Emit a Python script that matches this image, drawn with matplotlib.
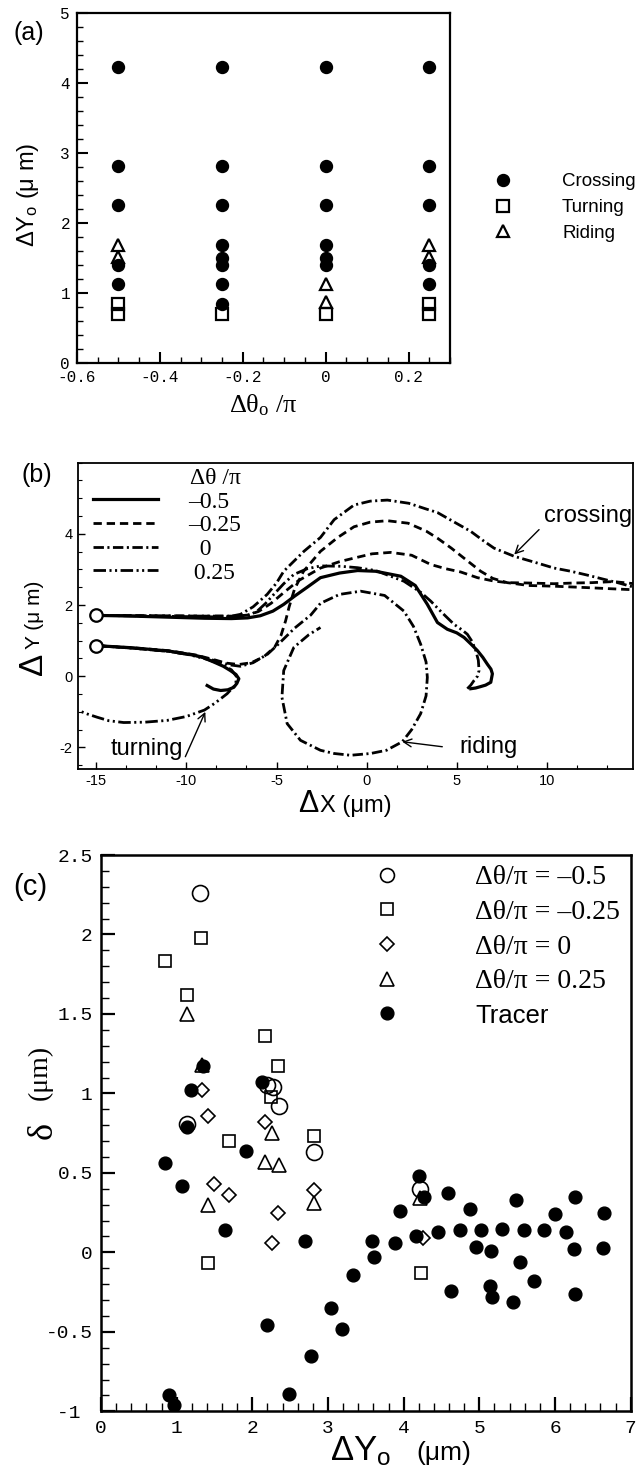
import matplotlib
matplotlib.use("Agg")
import matplotlib.pyplot as plt
from matplotlib.ticker import MultipleLocator, FuncFormatter, FixedLocator

plt.rcParams['axes.unicode_minus'] = False
plt.rcParams['lines.scale_dashes'] = False
plt.rcParams['mathtext.fontset'] = 'custom'
plt.rcParams['mathtext.rm'] = 'Liberation Serif'
plt.rcParams['mathtext.it'] = 'Liberation Serif:italic'
plt.rcParams['mathtext.sf'] = 'Liberation Sans'
plt.rcParams['font.family'] = ['Liberation Sans', 'DejaVu Sans']

SANS = ['Liberation Sans', 'DejaVu Sans']
SERIF = ['Liberation Serif', 'DejaVu Serif']
MONO = ['Liberation Mono', 'DejaVu Sans Mono']

# ---------------- (a) outcome map over initial angle and offset ----------------
theta0 = [-0.5, -0.25, 0.0, 0.25]
crossing_y0 = [[4.23, 2.82, 2.26, 1.41, 1.13],
               [4.23, 2.82, 2.26, 1.69, 1.51, 1.41, 1.13, 0.85],
               [4.23, 2.82, 2.26, 1.69, 1.51, 1.41],
               [4.23, 2.82, 2.26, 1.41, 1.13]]
turning_y0 = [[0.85, 0.71], [0.71], [0.71], [0.85, 0.71]]
riding_y0 = [[1.69, 1.52], [], [1.13, 0.87], [1.69, 1.52]]

# ---------------- (b) relative trajectories ----------------
# dtheta/pi = -0.5
traj_m05_hi_x = [-15, -13, -11, -9, -7.5, -6.6, -5.9, -5.2, -4.6, -4.0, -3.3, -2.56, -1.5, -0.5, 0.5,
                 1.9, 2.7, 3.37, 3.93, 4.48, 5.0, 5.41, 5.8, 6.15, 6.45, 6.7, 6.9, 6.98, 6.89, 6.6,
                 6.33, 6.05, 5.78]
traj_m05_hi_y = [1.71, 1.69, 1.66, 1.63, 1.62, 1.64, 1.70, 1.83, 2.02, 2.25, 2.50, 2.77, 2.90, 2.97, 2.95,
                 2.81, 2.55, 2.02, 1.51, 1.32, 1.22, 1.09, 0.90, 0.72, 0.53, 0.34, 0.20, 0.07, -0.17,
                 -0.25, -0.29, -0.33, -0.35]
traj_m05_lo_x = [-15, -13, -11, -10, -9.2, -8.48, -7.95, -7.56, -7.25, -7.09, -7.2, -7.37, -7.7, -8.1,
                 -8.5, -8.85]
traj_m05_lo_y = [0.86, 0.80, 0.71, 0.63, 0.55, 0.40, 0.28, 0.16, 0.05, -0.07, -0.20, -0.31, -0.38,
                 -0.40, -0.36, -0.26]
# dtheta/pi = -0.25
traj_m025_hi_x = [-15, -12, -9, -7.2, -6.6, -6.0, -5.3, -4.6, -3.8, -2.56, -1.5, -0.7, 0.3, 1.33, 2.5,
                  3.56, 4.4, 5.22, 6.15, 7.0, 7.8, 9.0, 10.4, 11.5, 12.5, 13.7, 14.85]
traj_m025_hi_y = [1.71, 1.70, 1.69, 1.69, 1.72, 1.82, 2.05, 2.35, 2.68, 3.04, 3.22, 3.32, 3.44, 3.48,
                  3.40, 3.14, 3.02, 2.93, 2.77, 2.68, 2.63, 2.62, 2.60, 2.62, 2.63, 2.66, 2.60]
traj_m025_lo_x = [-15, -13, -11, -9.5, -8.5, -7.8, -7.1, -6.4, -5.7, -5.1, -4.75, -4.5, -4.3, -4.0, -3.5,
                  -2.56, -1.6, -0.7, 0.2, 1.15, 2.3, 3.3, 3.93, 4.7, 5.4, 6.33, 7.0, 7.8, 9.0, 10.4,
                  12.26, 13.5, 14.85]
traj_m025_lo_y = [0.86, 0.80, 0.72, 0.60, 0.47, 0.37, 0.33, 0.38, 0.55, 0.82, 1.15, 1.55, 1.95, 2.45,
                  2.95, 3.51, 3.90, 4.20, 4.33, 4.37, 4.30, 4.08, 3.88, 3.60, 3.32, 2.95, 2.75, 2.63,
                  2.55, 2.53, 2.49, 2.46, 2.43]
# dtheta/pi = 0
traj_0_hi_x = [-15, -12, -9, -7.5, -7.0, -6.3, -5.52, -5.0, -4.6, -4.0, -3.48, -2.56, -1.8, -0.7, 0.2,
               1.15, 2.34, 3.3, 3.93, 4.8, 5.78, 6.5, 7.07, 8.19, 9.48, 10.4, 11.33, 12.26, 13.2, 14.0,
               14.85]
traj_0_hi_y = [1.71, 1.70, 1.69, 1.69, 1.74, 1.95, 2.30, 2.62, 2.95, 3.25, 3.51, 3.90, 4.40, 4.81, 4.92,
               4.95, 4.86, 4.70, 4.60, 4.35, 4.07, 3.80, 3.60, 3.37, 3.18, 3.04, 2.95, 2.84, 2.72, 2.62,
               2.50]
traj_0_lo_x = [-15, -13, -11, -9.5, -8.5, -7.6, -7.0, -6.3, -5.5, -4.9, -4.0, -3.1, -2.56, -1.5, -0.33,
               1.0, 2.07, 2.6, 3.0, 3.3, 3.37, 3.3, 3.0, 2.5, 1.98, 1.1, 0.22, -0.89, -1.8, -2.56,
               -3.67, -4.41, -4.7, -4.6, -4.04, -3.2, -2.56]
traj_0_lo_y = [0.86, 0.79, 0.70, 0.58, 0.45, 0.32, 0.28, 0.38, 0.62, 0.90, 1.35, 1.72, 2.05, 2.30, 2.39,
               2.27, 1.83, 1.40, 0.90, 0.40, -0.03, -0.55, -1.05, -1.50, -1.84, -2.08, -2.17, -2.22,
               -2.17, -2.08, -1.80, -1.33, -0.59, 0.16, 0.81, 1.17, 1.37]
# dtheta/pi = 0.25
traj_025_hi_x = [-15, -12, -9, -7.2, -6.5, -6.07, -5.6, -5.15, -4.6, -4.04, -3.3, -2.56, -1.44, -0.5,
                 0.5, 2.07, 3.0, 3.56, 4.2, 4.85, 5.3, 5.59, 5.85, 6.06, 6.2, 6.24, 6.15, 5.96, 5.78,
                 5.59]
traj_025_hi_y = [1.71, 1.69, 1.67, 1.67, 1.72, 1.83, 2.05, 2.30, 2.60, 2.86, 3.02, 3.10, 3.09, 3.05,
                 2.97, 2.67, 2.36, 2.11, 1.78, 1.46, 1.30, 1.18, 0.98, 0.72, 0.45, 0.16, 0.0, -0.12,
                 -0.25, -0.35]
traj_025_lo_x = [-15, -13, -11, -9.8, -8.8, -8.0, -7.5, -7.19, -7.3, -7.74, -8.4, -9.0, -10.0, -11.07,
                 -12.3, -13.48, -14.3, -14.96, -15.5, -16]
traj_025_lo_y = [0.86, 0.79, 0.70, 0.60, 0.47, 0.32, 0.18, -0.03, -0.25, -0.49, -0.75, -0.95, -1.13,
                 -1.24, -1.29, -1.30, -1.25, -1.15, -1.06, -0.96]
start_x = [-15, -15]
start_y = [1.71, 0.86]
legend_b_labels = ['\u20130.5', '\u20130.25', '  0', ' 0.25']

# ---------------- (c) lateral shift versus initial offset ----------------
circ_x = [1.13, 1.31, 2.19, 2.27, 2.35, 2.82, 4.22]
circ_y = [0.81, 2.26, 1.05, 1.04, 0.92, 0.63, 0.40]
sq_x = [0.85, 1.13, 1.32, 1.41, 1.69, 2.17, 2.25, 2.34, 2.82, 4.23]
sq_y = [1.83, 1.62, 1.98, -0.07, 0.70, 1.36, 0.98, 1.17, 0.73, -0.13]
dia_x = [1.34, 1.41, 1.49, 1.69, 2.17, 2.26, 2.34, 2.81, 4.26]
dia_y = [1.02, 0.86, 0.43, 0.36, 0.82, 0.06, 0.25, 0.39, 0.09]
tri_x = [1.13, 1.33, 1.41, 2.17, 2.26, 2.35, 2.81, 4.21]
tri_y = [1.50, 1.18, 0.30, 0.57, 0.75, 0.55, 0.31, 0.34]
tracer_x = [0.85, 0.90, 0.96, 1.07, 1.13, 1.19, 1.35, 1.64, 1.92, 2.13, 2.19, 2.48, 2.69, 2.77, 3.04,
            3.18, 3.33, 3.58, 3.61, 3.89, 3.95, 4.16, 4.20, 4.27, 4.45, 4.58, 4.63, 4.74, 4.88, 4.95,
            5.02, 5.14, 5.15, 5.17, 5.30, 5.44, 5.49, 5.54, 5.59, 5.72, 5.86, 6.00, 6.15, 6.25, 6.26,
            6.27, 6.63, 6.65]
tracer_y = [0.56, -0.90, -0.96, 0.42, 0.79, 1.02, 1.17, 0.14, 0.64, 1.07, -0.46, -0.89, 0.07, -0.65,
            -0.35, -0.48, -0.14, 0.07, -0.03, 0.06, 0.26, 0.10, 0.48, 0.35, 0.13, 0.375, -0.24, 0.14,
            0.27, 0.035, 0.14, -0.21, 0.01, -0.28, 0.145, -0.31, 0.33, -0.06, 0.14, -0.18, 0.14, 0.24,
            0.13, 0.02, -0.26, 0.35, 0.03, 0.25]
legend_c_labels = ['\u0394\u03b8/\u03c0 = \u20130.5', '\u0394\u03b8/\u03c0 = \u20130.25',
                   '\u0394\u03b8/\u03c0 = 0', '\u0394\u03b8/\u03c0 = 0.25', 'Tracer']

# ---------------- layout helpers (pixel based) ----------------
W, H = 640, 1470
fig = plt.figure(figsize=(W / 100, H / 100), dpi=100)


def box(left, top, right, bottom):
    return [left / W, 1 - bottom / H, (right - left) / W, (bottom - top) / H]


def fp(px, py):
    return (px / W, 1 - py / H)


def gfmt(v, pos):
    return '%g' % round(v, 6)


# ================= panel (a) =================
axa = fig.add_axes(box(77, 13.3, 450, 363.3))
xs_c = [t for t, ys in zip(theta0, crossing_y0) for _ in ys]
ys_c = [y for ys in crossing_y0 for y in ys]
xs_t = [t for t, ys in zip(theta0, turning_y0) for _ in ys]
ys_t = [y for ys in turning_y0 for y in ys]
xs_r = [t for t, ys in zip(theta0, riding_y0) for _ in ys]
ys_r = [y for ys in riding_y0 for y in ys]
h_c, = axa.plot(xs_c, ys_c, 'o', ms=8.6, mfc='black', mec='black', ls='none', label='Crossing')
h_t, = axa.plot(xs_t, ys_t, 's', ms=8.4, mfc='none', mec='black', mew=1.6, ls='none', label='Turning')
h_r, = axa.plot(xs_r, ys_r, '^', ms=9.2, mfc='none', mec='black', mew=1.6, ls='none', label='Riding')
axa.set_xlim(-0.6, 0.3)
axa.set_ylim(0, 5)
axa.xaxis.set_major_locator(FixedLocator([-0.6, -0.4, -0.2, 0.0, 0.2]))
axa.xaxis.set_minor_locator(MultipleLocator(0.05))
axa.yaxis.set_major_locator(MultipleLocator(1))
axa.yaxis.set_minor_locator(MultipleLocator(0.2))
axa.xaxis.set_major_formatter(FuncFormatter(gfmt))
axa.yaxis.set_major_formatter(FuncFormatter(gfmt))
axa.tick_params(which='both', direction='in', top=False, right=False,
                labelsize=11.5, labelfontfamily=MONO)
axa.tick_params(which='major', length=8, width=1.5, pad=5)
axa.tick_params(which='minor', length=4, width=1.0)
for s in axa.spines.values():
    s.set_linewidth(1.6)
leg_a = axa.legend(handles=[h_c, h_t, h_r], loc='upper left',
                   bbox_to_anchor=fp(488, 173), bbox_transform=fig.transFigure,
                   frameon=False, borderpad=0, borderaxespad=0, handlelength=1.6,
                   handletextpad=2.35, labelspacing=0.47, prop={'family': SANS, 'size': 13.5})
fig.text(*fp(28, 195), 'ΔY$_\\mathsf{o}$ (μ m)', rotation=90, ha='center', va='center',
         fontsize=17, family=SANS)
fig.text(*fp(263, 405), 'Δθ$_\\mathrm{o}$ /π', ha='center', va='center', fontsize=19, family=SERIF)
fig.text(*fp(29, 33), '(a)', ha='center', va='center', fontsize=18, family=SANS)

# ================= panel (b) =================
axb = fig.add_axes(box(78.3, 462.7, 633.3, 768.8))
lw_solid = 2.3
lw_b = 2.0
ls_dash = (0, (6, 3.5))
ls_dashdot = (0, (7.5, 2.5, 1.5, 2.5))
ls_dashdotdot = (0, (9, 2.5, 1.5, 2.5, 1.5, 2.5))
hb1, = axb.plot(traj_m05_hi_x, traj_m05_hi_y, color='black', lw=lw_solid, ls='-')
axb.plot(traj_m05_lo_x, traj_m05_lo_y, color='black', lw=lw_solid, ls='-')
hb2, = axb.plot(traj_m025_hi_x, traj_m025_hi_y, color='black', lw=lw_b, ls=ls_dash)
axb.plot(traj_m025_lo_x, traj_m025_lo_y, color='black', lw=lw_b, ls=ls_dash)
hb3, = axb.plot(traj_0_hi_x, traj_0_hi_y, color='black', lw=lw_b, ls=ls_dashdot)
axb.plot(traj_0_lo_x, traj_0_lo_y, color='black', lw=lw_b, ls=ls_dashdot)
hb4, = axb.plot(traj_025_hi_x, traj_025_hi_y, color='black', lw=lw_b, ls=ls_dashdotdot)
axb.plot(traj_025_lo_x, traj_025_lo_y, color='black', lw=lw_b, ls=ls_dashdotdot)
axb.plot(start_x, start_y, 'o', ms=9, mfc='white', mec='black', mew=1.6, ls='none', zorder=5)
axb.set_xlim(-16, 14.8)
axb.set_ylim(-2.6, 6)
axb.xaxis.set_major_locator(MultipleLocator(5))
axb.xaxis.set_minor_locator(MultipleLocator(5 / 3))
axb.yaxis.set_major_locator(FixedLocator([-2, 0, 2, 4]))
axb.yaxis.set_minor_locator(MultipleLocator(0.5))
axb.xaxis.set_major_formatter(FuncFormatter(gfmt))
axb.yaxis.set_major_formatter(FuncFormatter(gfmt))
axb.tick_params(which='both', direction='in', top=False, right=False,
                labelsize=10.5, labelfontfamily=SANS)
axb.tick_params(which='major', length=5, width=1.0, pad=4)
axb.tick_params(which='minor', length=3, width=0.8)
for s in axb.spines.values():
    s.set_linewidth(1.3)
leg_b = axb.legend(handles=[hb1, hb2, hb3, hb4], labels=legend_b_labels, title='Δθ /π',
                   loc='upper left', bbox_to_anchor=fp(93, 468), bbox_transform=fig.transFigure,
                   frameon=False, borderpad=0, borderaxespad=0, handlelength=2.75,
                   handletextpad=1.27, labelspacing=0.09, alignment='right',
                   prop={'family': SERIF, 'size': 17},
                   title_fontproperties={'family': SERIF, 'size': 17})
arrow = dict(arrowstyle='->', lw=1.0, color='black', shrinkA=0, shrinkB=0,
             mutation_scale=14)
axb.annotate('', xy=(8.19, 3.42), xytext=(9.57, 4.12), arrowprops=arrow)
axb.text(9.85, 4.49, 'crossing', ha='left', va='center', fontsize=17, family=SANS)
axb.annotate('', xy=(1.98, -1.84), xytext=(4.2, -1.98), arrowprops=arrow)
axb.text(5.13, -1.98, 'riding', ha='left', va='center', fontsize=17, family=SANS)
axb.annotate('', xy=(-8.95, -1.0), xytext=(-10.06, -2.26), arrowprops=arrow)
axb.text(-14.22, -2.03, 'turning', ha='left', va='center', fontsize=17, family=SANS)
fig.text(*fp(42, 664), 'Δ', rotation=90, rotation_mode='anchor', ha='center', va='baseline',
         fontsize=24, family=SANS)
fig.text(*fp(40.5, 615), 'Y (μ m)', rotation=90, rotation_mode='anchor', ha='center',
         va='baseline', fontsize=15, family=SANS)
fig.text(*fp(298, 812), 'Δ', ha='left', va='baseline', fontsize=22, family=SANS)
fig.text(*fp(320, 812), 'X (μm)', ha='left', va='baseline', fontsize=17, family=SANS)
fig.text(*fp(37, 475), '(b)', ha='center', va='center', fontsize=18, family=SANS)

# ================= panel (c) =================
axc = fig.add_axes(box(101, 855, 630.7, 1411.3))
hc1, = axc.plot(circ_x, circ_y, 'o', ms=11.5, mfc='none', mec='black', mew=1.2, ls='none')
hc2, = axc.plot(sq_x, sq_y, 's', ms=8.2, mfc='none', mec='black', mew=1.2, ls='none')
hc3, = axc.plot(dia_x, dia_y, 'D', ms=6.8, mfc='none', mec='black', mew=1.2, ls='none')
hc4, = axc.plot(tri_x, tri_y, '^', ms=9.4, mfc='none', mec='black', mew=1.2, ls='none')
hc5, = axc.plot(tracer_x, tracer_y, 'o', ms=9.2, mfc='black', mec='black', ls='none')
axc.set_xlim(0, 7)
axc.set_ylim(-1, 2.5)
axc.xaxis.set_major_locator(MultipleLocator(1))
axc.xaxis.set_minor_locator(MultipleLocator(0.2))
axc.yaxis.set_major_locator(MultipleLocator(0.5))
axc.yaxis.set_minor_locator(MultipleLocator(0.1))
axc.xaxis.set_major_formatter(FuncFormatter(gfmt))
axc.yaxis.set_major_formatter(FuncFormatter(lambda v, p: '-1 ' if abs(v + 1) < 1e-9 else gfmt(v, p)))
axc.tick_params(which='both', direction='in', top=False, right=False,
                labelsize=14, labelfontfamily=MONO)
axc.tick_params(which='major', length=10, width=1.6, pad=6)
axc.tick_params(which='minor', length=5.5, width=1.0)
for s in axc.spines.values():
    s.set_linewidth(1.8)
leg_c = axc.legend(handles=[hc1, hc2, hc3, hc4, hc5], labels=legend_c_labels, loc='upper left',
                   bbox_to_anchor=fp(364.5, 865), bbox_transform=fig.transFigure,
                   frameon=False, borderpad=0, borderaxespad=0, handlelength=1.6,
                   handletextpad=2.38, labelspacing=0.33, prop={'family': SERIF, 'size': 20})
leg_c.get_texts()[-1].set_fontfamily(SANS)
leg_c.get_texts()[-1].set_fontsize(18.5)
leg_c.legend_handles[0].set_markersize(10)
fig.text(*fp(51.7, 1130), 'δ', rotation=90, rotation_mode='anchor', ha='center', va='baseline',
         fontsize=26, family=SERIF)
fig.text(*fp(47, 1072), '(μm)', rotation=90, rotation_mode='anchor', ha='center', va='baseline',
         fontsize=20, family=SERIF)
fig.text(*fp(330, 1461), 'ΔY$_\\mathsf{o}$', ha='left', va='baseline', fontsize=25, family=SANS)
fig.text(*fp(416.7, 1460), '(μm)', ha='left', va='baseline', fontsize=19, family=SANS)
fig.text(*fp(30, 887), '(c)', ha='center', va='center', fontsize=21, family=SANS)

fig.savefig('out.png', dpi=100)
